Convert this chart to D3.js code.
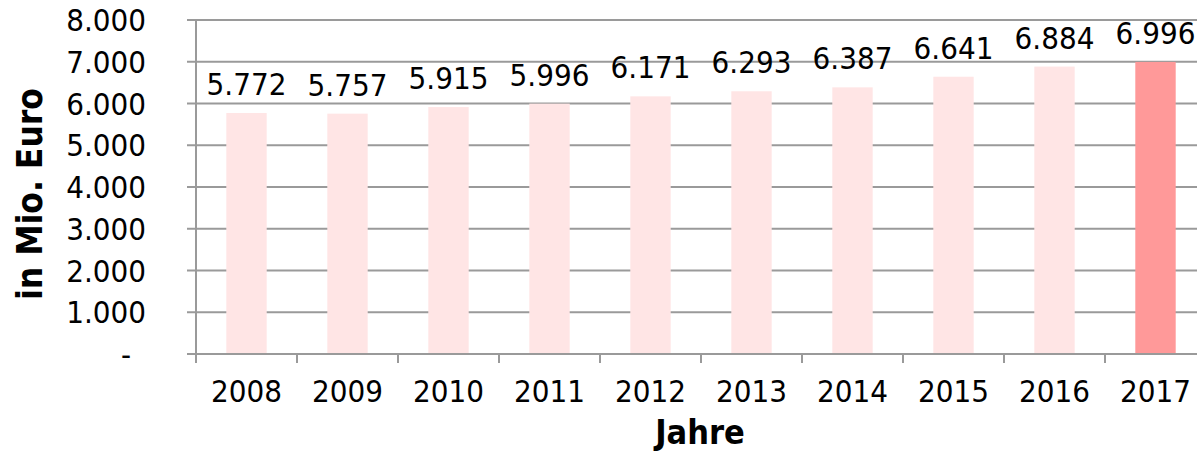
<!DOCTYPE html>
<html lang="de">
  <head>
    <meta charset="utf-8" />
    <title>Jahre</title>
    <script src="https://d3js.org/d3.v7.min.js"></script>
    <style>
      body { margin: 0; background: #fff; }
      svg { display: block; }
      text { font-family: "DejaVu Sans Condensed", "DejaVu Sans", sans-serif; font-stretch: condensed; fill: #000; }
    </style>
  </head>
  <body>
    <script>
      // data
      const years = ["2008", "2009", "2010", "2011", "2012", "2013", "2014", "2015", "2016", "2017"];
      const values = [5772, 5757, 5915, 5996, 6171, 6293, 6387, 6641, 6884, 6996];
      const yTicks = [0, 1000, 2000, 3000, 4000, 5000, 6000, 7000, 8000];

      const w = 1197;
      const h = 452;
      const padLeft = 196;
      const padTop = 20;
      const baseY = 354;

      const fmt = (d) => (d === 0 ? "-" : d3.format(",")(d).replace(/,/g, "."));

      const svg = d3.select("body").append("svg").attr("width", w).attr("height", h);

      const x = d3.scaleBand().domain(years).range([padLeft, padLeft + 1010]).paddingInner(0.6).paddingOuter(0.3);
      const y = d3.scaleLinear().domain([0, 8000]).range([baseY, padTop]);

      // gridlines
      svg
        .selectAll("line.grid")
        .data(yTicks.filter((d) => d > 0))
        .enter()
        .append("line")
        .attr("x1", padLeft - 9)
        .attr("x2", w)
        .attr("y1", (d) => y(d))
        .attr("y2", (d) => y(d))
        .attr("stroke", "#9a9a9a")
        .attr("stroke-width", 2);

      // bars
      svg
        .selectAll("rect")
        .data(values)
        .enter()
        .append("rect")
        .attr("x", (d, i) => x(years[i]))
        .attr("y", (d) => y(d))
        .attr("width", x.bandwidth())
        .attr("height", (d) => baseY - y(d))
        .attr("fill", (d, i) => (i === values.length - 1 ? "#ff9999" : "#ffe5e5"));

      // value labels
      svg
        .selectAll("text.val")
        .data(values)
        .enter()
        .append("text")
        .attr("class", "val")
        .text(fmt)
        .attr("x", (d, i) => x(years[i]) + x.bandwidth() / 2)
        .attr("y", (d) => y(d) - 18)
        .attr("text-anchor", "middle")
        .attr("font-size", "31px");

      // y axis
      svg
        .append("line")
        .attr("x1", padLeft)
        .attr("x2", padLeft)
        .attr("y1", padTop)
        .attr("y2", baseY)
        .attr("stroke", "#9a9a9a")
        .attr("stroke-width", 2);

      svg
        .selectAll("text.ytick")
        .data(yTicks)
        .enter()
        .append("text")
        .attr("class", "ytick")
        .text(fmt)
        .attr("x", (d) => (d === 0 ? 131 : 146))
        .attr("y", (d) => y(d))
        .attr("dy", "0.36em")
        .attr("text-anchor", "end")
        .attr("font-size", "31px");

      // x axis
      svg
        .append("line")
        .attr("x1", padLeft - 9)
        .attr("x2", w)
        .attr("y1", baseY)
        .attr("y2", baseY)
        .attr("stroke", "#9a9a9a")
        .attr("stroke-width", 2);

      svg
        .selectAll("line.xtick")
        .data(years)
        .enter()
        .append("line")
        .attr("x1", (d) => x(d) - x.step() * 0.3)
        .attr("x2", (d) => x(d) - x.step() * 0.3)
        .attr("y1", baseY)
        .attr("y2", baseY + 9)
        .attr("stroke", "#9a9a9a")
        .attr("stroke-width", 2);

      svg
        .selectAll("text.xtick")
        .data(years)
        .enter()
        .append("text")
        .text((d) => d)
        .attr("x", (d) => x(d) + x.bandwidth() / 2)
        .attr("y", 402)
        .attr("text-anchor", "middle")
        .attr("font-size", "31px");

      // axis titles
      svg
        .append("text")
        .text("Jahre")
        .attr("x", 700)
        .attr("y", 444)
        .attr("text-anchor", "middle")
        .attr("font-size", "34px")
        .attr("font-weight", "bold");

      svg
        .append("text")
        .text("in Mio. Euro")
        .attr("transform", "translate(42,194) rotate(-90)")
        .attr("text-anchor", "middle")
        .attr("font-size", "35px")
        .attr("font-weight", "bold");
    </script>
  </body>
</html>
